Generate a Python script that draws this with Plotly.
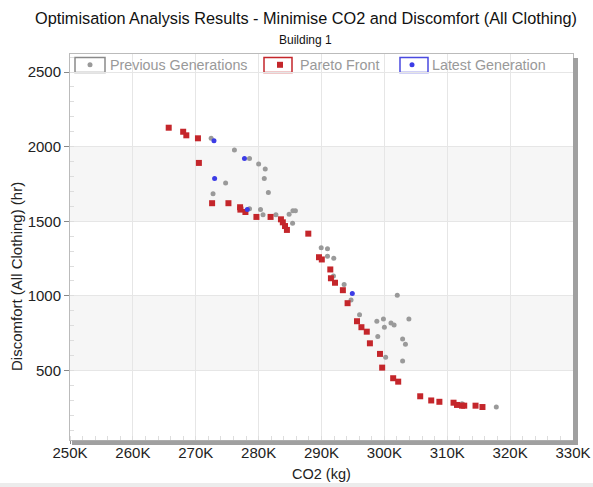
import plotly.graph_objects as go

# ---- data (CO2 in kg, discomfort in hr) ----
pareto_co2 = [265700, 268000, 268500, 270350, 270500, 272600, 275200, 277050, 277100, 277900,
              279650, 281900, 283550, 283850, 284200, 284500, 287900, 289600, 290050, 291400,
              291500, 292150, 293400, 294150, 295650, 296350, 297200, 297700, 299300, 299650,
              301400, 302200, 305700, 307450, 308750, 311000, 311550, 312350, 312700, 314500,
              315600]
pareto_disc = [2127, 2100, 2076, 2056, 1891, 1621, 1621, 1594, 1578, 1562,
               1529, 1529, 1513, 1493, 1468, 1442, 1417, 1259, 1244, 1177,
               1118, 1088, 1038, 951, 830, 790, 760, 682, 611, 519,
               448, 425, 327, 299, 290, 284, 269, 264, 264, 264,
               255]

prev_co2 = [272450, 276150, 278550, 280000, 281050, 280900, 274750, 272750, 281550, 278550,
            280300, 280700, 282750, 284850, 285450, 285850, 285400, 289950, 290950, 290950,
            291950, 291900, 293600, 294700, 296050, 298800, 299850, 300000, 301050, 301550,
            302050, 303900, 298950, 302900, 303350, 300200, 302900, 312350, 317800]
prev_disc = [2056, 1978, 1920, 1884, 1851, 1786, 1757, 1685, 1692, 1584,
             1578, 1544, 1544, 1547, 1571, 1571, 1487, 1323, 1316, 1266,
             1252, 1133, 1076, 972, 874, 830, 845, 790, 818, 805,
             1004, 845, 727, 711, 676, 588, 564, 277, 255]

latest_co2 = [272900, 277750, 273000, 278200, 294900]
latest_disc = [2040, 1920, 1786, 1578, 1016]

x_tick_vals = [250000, 260000, 270000, 280000, 290000, 300000, 310000, 320000, 330000]
x_tick_text = ["250K", "260K", "270K", "280K", "290K", "300K", "310K", "320K", "330K"]
y_tick_vals = [500, 1000, 1500, 2000, 2500]
band_ranges = [(500, 1000), (1500, 2000)]

TITLE = "Optimisation Analysis Results - Minimise CO2 and Discomfort (All Clothing)"
SUBTITLE = "Building 1"
X_TITLE = "CO2 (kg)"
Y_TITLE = "Discomfort (All Clothing) (hr)"

FONT = "Liberation Sans, Arial, sans-serif"
W, H = 593, 487
L, R, T, B = 70, 20, 54, 47
PW, PH = W - L - R, H - T - B


def px(xp):
    return (xp - L) / PW


def py(yp):
    return (H - B - yp) / PH


fig = go.Figure()
fig.add_trace(go.Scatter(x=prev_co2, y=prev_disc, mode="markers", name="Previous Generations",
                         legend="legend",
                         marker=dict(symbol="circle", size=5, color="#9a9a9a")))
fig.add_trace(go.Scatter(x=pareto_co2, y=pareto_disc, mode="markers", name="Pareto Front",
                         legend="legend2",
                         marker=dict(symbol="square", size=6, color="#c4262b")))
fig.add_trace(go.Scatter(x=latest_co2, y=latest_disc, mode="markers", name="Latest Generation",
                         legend="legend3",
                         marker=dict(symbol="circle", size=5, color="#3c3ce6")))

shapes = []
for lo, hi in band_ranges:
    shapes.append(dict(type="rect", xref="paper", yref="y", x0=0, x1=1, y0=lo, y1=hi,
                       fillcolor="#f6f6f6", line=dict(width=0), layer="below"))
# plot-area shadow on the right and bottom
shapes.append(dict(type="rect", xref="paper", yref="paper", x0=px(573), x1=px(578), y0=py(445), y1=py(58),
                   fillcolor="#a0a0a0", line=dict(width=0)))
shapes.append(dict(type="rect", xref="paper", yref="paper", x0=px(72), x1=px(578), y0=py(445), y1=py(440.5),
                   fillcolor="#a0a0a0", line=dict(width=0)))
# bottom strip of the window
shapes.append(dict(type="rect", xref="paper", yref="paper", x0=px(0), x1=px(W), y0=py(H), y1=py(483),
                   fillcolor="#ececec", line=dict(width=0)))
# legend symbol boxes
for (x0, x1), col in [((75, 105), "#8a8a8a"), ((264, 292), "#c4262b"), ((400, 428), "#4a4ae0")]:
    shapes.append(dict(type="rect", xref="paper", yref="paper", x0=px(x0), x1=px(x1),
                       y0=py(72.5), y1=py(57.5), fillcolor="white",
                       line=dict(color=col, width=1.5), layer="below"))

leg_common = dict(orientation="h", y=py(49), xanchor="left", yanchor="top",
                  font=dict(size=14.3, color="#999", family=FONT), bgcolor="rgba(0,0,0,0)",
                  itemsizing="trace")

fig.update_layout(
    width=W, height=H,
    margin=dict(l=L, r=R, t=T, b=B, autoexpand=False),
    paper_bgcolor="white", plot_bgcolor="white",
    font=dict(family=FONT, color="#222"),
    showlegend=True,
    legend=dict(x=px(70), **leg_common),
    legend2=dict(x=px(260), **leg_common),
    legend3=dict(x=px(392), **leg_common),
    shapes=shapes,
    annotations=[
        dict(text=TITLE, xref="paper", yref="paper", x=px(305.5), y=py(18), xanchor="center",
             yanchor="middle", showarrow=False, font=dict(size=16.3, family=FONT, color="#111")),
        dict(text=SUBTITLE, xref="paper", yref="paper", x=px(305.5), y=py(40), xanchor="center",
             yanchor="middle", showarrow=False, font=dict(size=12, family=FONT, color="#111")),
        dict(text=Y_TITLE, xref="paper", yref="paper", x=px(16), y=py(277), xanchor="center",
             yanchor="middle", showarrow=False, textangle=-90,
             font=dict(size=15, family=FONT, color="#222")),
        dict(text=X_TITLE, xref="paper", yref="paper", x=px(321.5), y=py(474), xanchor="center",
             yanchor="middle", showarrow=False, font=dict(size=14.5, family=FONT, color="#222")),
    ],
)
fig.update_xaxes(range=[250000, 330000], tickvals=x_tick_vals, ticktext=x_tick_text,
                 showgrid=True, gridcolor="#e6e6e6", gridwidth=1,
                 ticks="outside", ticklen=3, tickcolor="#888", ticklabelstandoff=-4,
                 showline=True, linecolor="#bbb", mirror=True, zeroline=False,
                 tickfont=dict(size=15, family=FONT, color="#222"),
                 minor=dict(ticks="inside", dtick=2000, ticklen=4, tickcolor="#dddddd", showgrid=False))
fig.update_yaxes(range=[34, 2621], tickvals=y_tick_vals,
                 showgrid=True, gridcolor="#e6e6e6", gridwidth=1,
                 ticks="outside", ticklen=5, tickcolor="#888",
                 showline=True, linecolor="#bbb", mirror=True, zeroline=False,
                 tickfont=dict(size=15, family=FONT, color="#222"),
                 minor=dict(ticks="inside", tick0=0, dtick=100, ticklen=4, tickcolor="#dddddd", showgrid=False))

fig.write_html("out.html", config={"displayModeBar": False},
               post_script="document.body.style.margin='0px';document.body.style.overflow='hidden';")
